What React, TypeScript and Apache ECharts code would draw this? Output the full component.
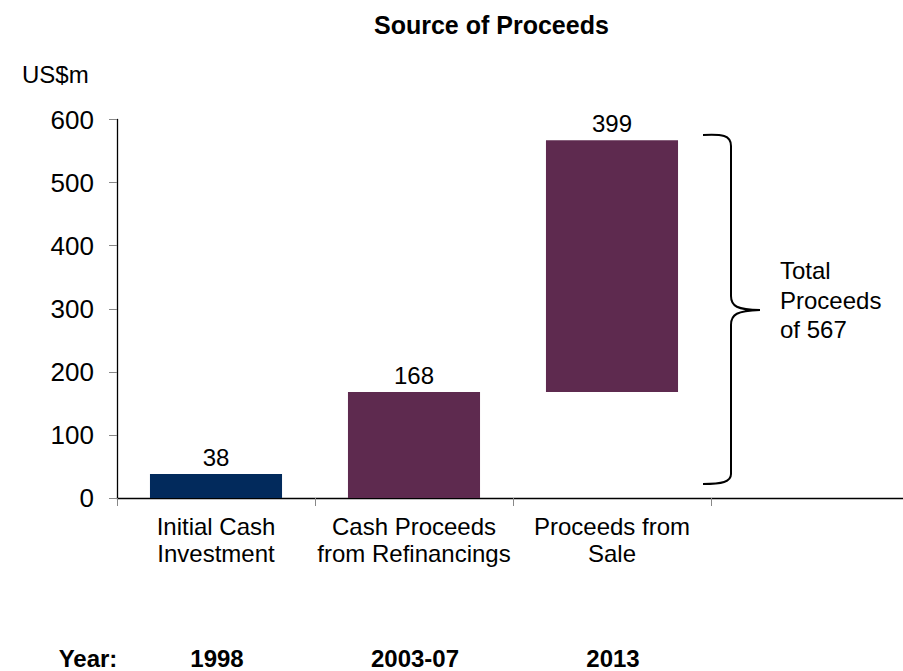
import React, { useEffect, useRef } from "react";
import * as echarts from "echarts";

const categories = ["Initial Cash\nInvestment", "Cash Proceeds\nfrom Refinancings", "Proceeds from\nSale", ""];
const baseValues: (number | null)[] = [0, 0, 168, null];
const barValues: (number | null)[] = [38, 168, 399, null];
const barColors = ["#022a5c", "#5e2a4f", "#5e2a4f", "#5e2a4f"];
const yearLabel = "Year:";
const years = ["1998", "2003-07", "2013"];
const titleText = "Source of Proceeds";
const unitText = "US$m";
const braceText = "Total\nProceeds\nof 567";

const FONT = "'Liberation Sans', Arial, Helvetica, sans-serif";

const BRACE_D =
  "M0,0 C19,-1 28,0 28,11 L28,161 C28,171 34,175 57,175 C34,176 28,179 28,190 L28,339 C28,347 19,349 0,349";

let registered = false;

export default function App() {
  const ref = useRef<HTMLDivElement>(null);
  useEffect(() => {
    if (!ref.current) return;
    document.body.style.margin = "0";
    document.documentElement.style.overflow = "hidden";
    if (!registered) {
      echarts.graphic.registerShape("brace", (echarts.graphic as any).extendPath(BRACE_D, {}));
      registered = true;
    }
    const chart = echarts.init(ref.current, undefined, { renderer: "svg" });
    chart.setOption({
      animation: false,
      backgroundColor: "#ffffff",
      textStyle: { fontFamily: FONT },
      title: {
        text: titleText,
        left: 369,
        top: 7,
        textStyle: { fontFamily: FONT, fontSize: 25, fontWeight: "bold", color: "#000" },
      },
      grid: {
        left: 117,
        top: 119.5,
        width: 792,
        height: 378.5,
        containLabel: false,
        outerBoundsMode: "none",
      },
      xAxis: {
        type: "category",
        data: categories,
        axisLine: { show: true, lineStyle: { color: "#000", width: 1.3 } },
        axisTick: { show: true, alignWithLabel: false, length: 8, lineStyle: { color: "#888" } },
        axisLabel: {
          interval: 0,
          margin: 15,
          fontSize: 24,
          lineHeight: 27,
          color: "#000",
          fontFamily: FONT,
        },
        splitLine: { show: false },
      },
      yAxis: {
        type: "value",
        min: 0,
        max: 600,
        interval: 100,
        axisLine: { show: true, lineStyle: { color: "#000", width: 1.3 } },
        axisTick: { show: true, length: 8, lineStyle: { color: "#888" } },
        axisLabel: { margin: 23, fontSize: 26, color: "#000", fontFamily: FONT },
        splitLine: { show: false },
      },
      series: [
        {
          type: "bar",
          stack: "total",
          data: baseValues,
          barWidth: "66.7%",
          itemStyle: { color: "rgba(0,0,0,0)" },
          silent: true,
        },
        {
          type: "bar",
          stack: "total",
          barWidth: "66.7%",
          data: barValues.map((v, i) => ({ value: v, itemStyle: { color: barColors[i] } })),
          label: {
            show: true,
            position: "top",
            distance: 5,
            fontSize: 24,
            color: "#000",
            fontFamily: FONT,
            formatter: (p: any) => (p.value == null ? "" : String(p.value)),
          },
        },
      ],
    });

    const yearY = 658;
    const graphics: any[] = [
      {
        type: "text",
        left: 22,
        top: 62,
        style: { text: unitText, fontSize: 24, fontFamily: FONT, fill: "#000" },
      },
      {
        type: "text",
        x: 88,
        y: yearY,
        style: {
          text: yearLabel,
          fontSize: 24,
          fontWeight: "bold",
          fontFamily: FONT,
          fill: "#000",
          align: "center",
          verticalAlign: "middle",
        },
      },
      {
        type: "brace",
        x: 703,
        y: 135,
        scaleX: 1,
        scaleY: 1,
        style: { fill: "none", stroke: "#000", lineWidth: 2 },
      },
      {
        type: "text",
        x: 780,
        y: 300,
        style: {
          text: braceText,
          fontSize: 24,
          lineHeight: 29.5,
          fontFamily: FONT,
          fill: "#000",
          align: "left",
          verticalAlign: "middle",
        },
      },
    ];
    years.forEach((yr, i) => {
      const px = chart.convertToPixel({ xAxisIndex: 0 }, i) as number;
      graphics.push({
        type: "text",
        x: px + 1,
        y: yearY,
        style: {
          text: yr,
          fontSize: 24,
          fontWeight: "bold",
          fontFamily: FONT,
          fill: "#000",
          align: "center",
          verticalAlign: "middle",
        },
      });
    });
    chart.setOption({ graphic: graphics });

    return () => chart.dispose();
  }, []);
  return (
    <div
      ref={ref}
      style={{ position: "fixed", left: 0, top: 0, width: 903, height: 671, background: "#fff" }}
    />
  );
}
